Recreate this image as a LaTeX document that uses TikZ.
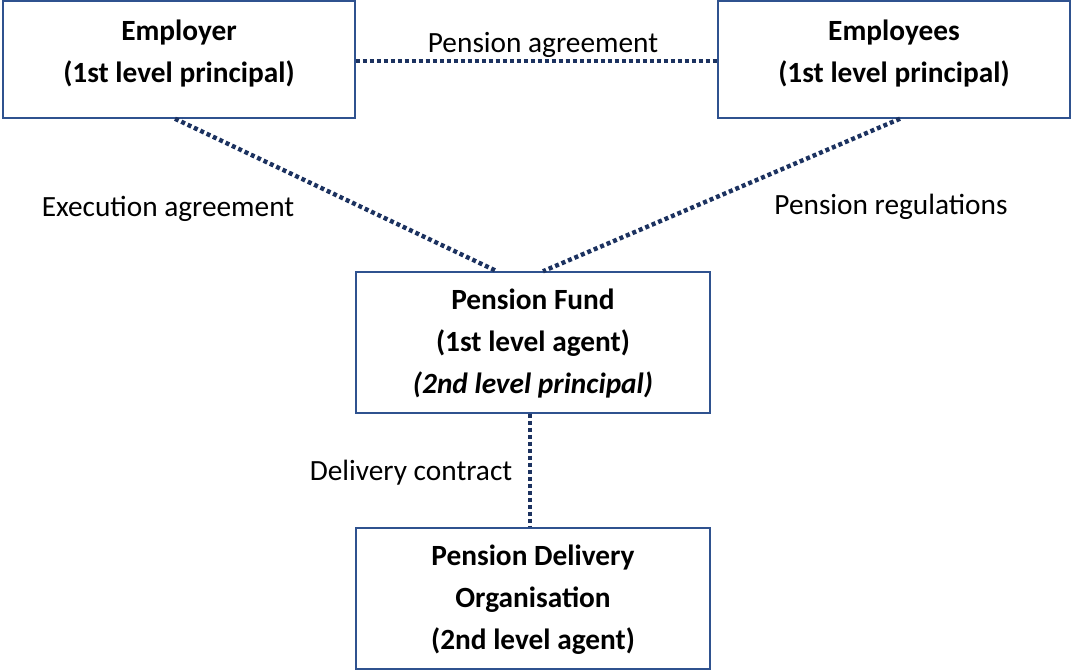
\documentclass[tikz,border=0pt]{standalone}
\usepackage{fontspec}
\setmainfont{Carlito}
\begin{document}
\begin{tikzpicture}[x=0.75pt,y=-0.75pt,
  boxframe/.style={draw={rgb,255:red,47;green,82;blue,143}, line width=1.1pt, rectangle, inner sep=0pt},
  boxtext/.style={align=center, font=\fontsize{22pt}{31.5pt}\selectfont\bfseries, inner sep=0pt},
  lbl/.style={font=\fontsize{22pt}{31.5pt}\selectfont, inner sep=0pt, anchor=base},
  link/.style={draw={rgb,255:red,28;green,50;blue,96}, line width=3.3pt, dash pattern=on 3pt off 2.25pt}]
\useasboundingbox (0,0) rectangle (1072,671);
% boxes
\node[boxframe, minimum width=352*0.75pt, minimum height=117*0.75pt] (emp) at (179,59.5) {};
\node[boxtext] (empt) at (179,53.5) {Employer\\(1st level principal)};
\node[boxframe, minimum width=352*0.75pt, minimum height=117*0.75pt] (emps) at (894,59.5) {};
\node[boxtext] (empst) at (894,53.5) {Employees\\(1st level principal)};
\node[boxframe, minimum width=354*0.75pt, minimum height=141*0.75pt] (pf) at (533,342.5) {};
\node[boxtext] (pft) at (533,344) {Pension Fund\\(1st level agent)\\\textit{(2nd level principal)}};
\node[boxframe, minimum width=354*0.75pt, minimum height=141*0.75pt] (pdo) at (533,598.5) {};
\node[boxtext] (pdot) at (533,600) {Pension Delivery\\Organisation\\(2nd level agent)};
% connector end points
\coordinate (e1) at ([xshift=-3pt]emp.south);
\coordinate (e2) at ([xshift=4.5pt]emps.south);
\coordinate (f1) at ([xshift=-27pt]pf.north);
\coordinate (f2) at ([xshift=7.5pt]pf.north);
% connectors
\draw[link] (emp.east |- 0,61) -- (emps.west |- 0,61);
\draw[link] (e1) -- (f1);
\draw[link] (e2) -- (f2);
\draw[link] ([xshift=-2.25pt]pf.south) -- ([xshift=-2.25pt]pdo.north);
% labels
\node[lbl] (l1) at (543,52) {Pension agreement};
\node[lbl] (l2) at (168,216) {Execution agreement};
\node[lbl] (l3) at (891,214) {Pension regulations};
\node[lbl] (l4) at (411,480) {Delivery contract};
\end{tikzpicture}
\end{document}
